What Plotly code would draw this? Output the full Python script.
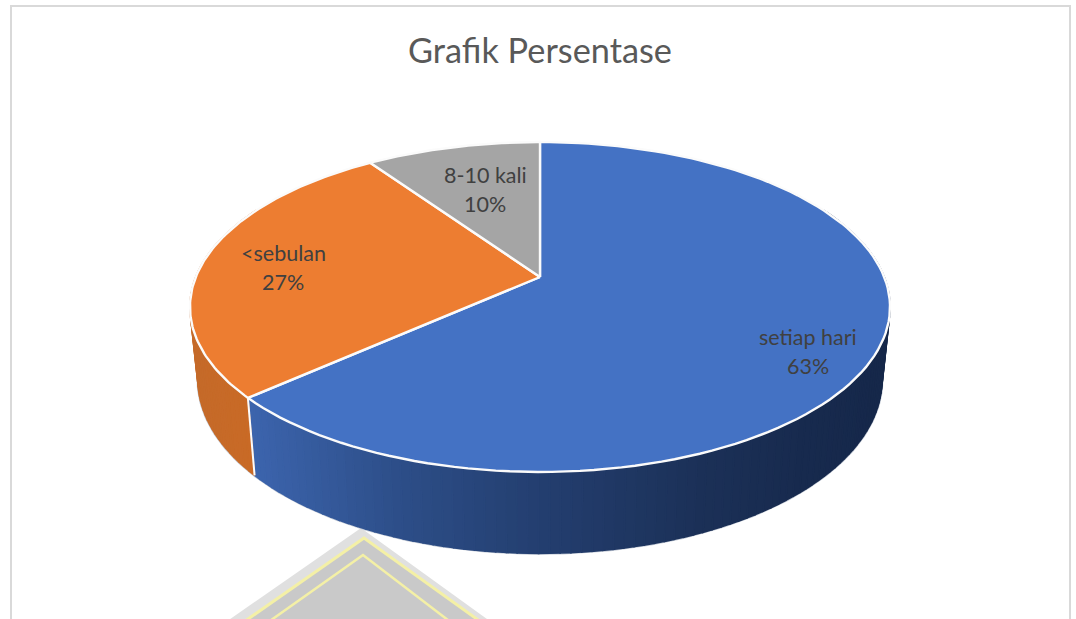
import numpy as np
import plotly.graph_objects as go

# ---- data ----
categories = ["setiap hari", "<sebulan", "8-10 kali"]
values = [63.4, 27.0, 9.6]
top_colors = ["#4472C4", "#ED7D31", "#A5A5A5"]
title_text = "Grafik Persentase"

# ---- perspective model of the tilted disc (pixel axes) ----
CX, CY_TOP, CY_BOT = 540.0, 277.0, 348.0
K = 0.1818
A_TOP, B_TOP = 344.2, 159.5
A_BOT, B_BOT = 336.3, 168.0
WHITE = "#FBFBFB"


def rim(theta, level):
    u, v = np.sin(theta), np.cos(theta)
    d = 1 + K * v
    if level == "top":
        return CX + A_TOP * u / d, CY_TOP - B_TOP * v / d
    return CX + A_BOT * u / d, CY_BOT - B_BOT * v / d


def lerp_color(x, stops):
    xs = [s[0] for s in stops]
    return "rgb(%d,%d,%d)" % tuple(
        np.interp(x, xs, [s[1][i] for s in stops]) for i in range(3)
    )


side_stops = [
    [(200, (62, 104, 180)), (255, (60, 100, 172)), (400, (45, 78, 136)),
     (540, (36, 63, 112)), (700, (28, 49, 88)), (800, (24, 43, 79)), (890, (22, 40, 74))],
    [(190, (197, 106, 42)), (255, (202, 106, 38))],
    [(190, (130, 130, 130)), (540, (130, 130, 130))],
]

fig = go.Figure()

# slice boundaries, clockwise from 12 o'clock
fractions = np.cumsum([0] + values) / sum(values)
angles = 2 * np.pi * fractions

# bottom rim highlight (under the wall so only its outer half shows)
th = np.linspace(np.radians(100), np.radians(285), 160)
bx, by = rim(th, "bot")
fig.add_trace(go.Scatter(x=bx, y=by, mode="lines", line=dict(color="#C4CBD6", width=3),
                         hoverinfo="skip", showlegend=False))

# side wall
for i in range(len(values)):
    a0, a1 = angles[i], angles[i + 1]
    n = max(2, int((a1 - a0) / np.radians(1.5)))
    edges = np.linspace(a0, a1, n + 1)
    for t0, t1 in zip(edges[:-1], edges[1:]):
        if np.cos((t0 + t1) / 2) > 0.45:
            continue  # back of the wall, hidden by the top
        x0, y0 = rim(t0, "top")
        x1, y1 = rim(t1, "top")
        x2, y2 = rim(t1, "bot")
        x3, y3 = rim(t0, "bot")
        col = lerp_color((x0 + x1) / 2, side_stops[i])
        fig.add_trace(go.Scatter(
            x=[x0, x1, x2, x3, x0], y=[y0, y1, y2, y3, y0],
            mode="lines", fill="toself", fillcolor=col,
            line=dict(color=col, width=1.6), hoverinfo="skip", showlegend=False))

# vertical white seam between blue and orange walls
sx0, sy0 = rim(angles[1], "top")
sx1, sy1 = rim(angles[1], "bot")
fig.add_trace(go.Scatter(x=[sx0, sx1], y=[sy0, sy1], mode="lines",
                         line=dict(color=WHITE, width=2), hoverinfo="skip", showlegend=False))

# top faces
for i, name in enumerate(categories):
    th = np.linspace(angles[i], angles[i + 1], 120)
    ax, ay = rim(th, "top")
    fig.add_trace(go.Scatter(
        x=np.r_[CX, ax, CX], y=np.r_[CY_TOP, ay, CY_TOP],
        mode="lines", fill="toself", fillcolor=top_colors[i],
        line=dict(color=WHITE, width=2.4), name=name, showlegend=False))

# ---- labels ----
label_pos = [(808, 337, 366), (283, 253, 282), (485, 175, 204)]
annotations = []
for name, val, (lx, y1, y2) in zip(categories, values, label_pos):
    for txt, ly in ((name, y1), (f"{val / sum(values):.0%}", y2)):
        annotations.append(dict(x=lx, y=ly, xref="x", yref="y", text=txt, showarrow=False,
                                font=dict(family="Lato", size=21.5, color="#404040"),
                                xanchor="center", yanchor="middle"))
annotations.append(dict(x=540, y=49, xref="x", yref="y", text=title_text, showarrow=False,
                        font=dict(family="Lato", size=34.3, color="#595959"),
                        xanchor="center", yanchor="middle"))

# ---- frame and the watermark behind the chart (runs off the bottom of the page) ----
shapes = [
    dict(type="path", path="M361,528 L200,640 L516,640 Z", fillcolor="#E0E0E0",
         line=dict(width=0), layer="below"),
    dict(type="path", path="M364,538 L218,640 L506,640 Z", fillcolor="#C9C9C9",
         line=dict(color="#F4F0A6", width=3), layer="below"),
    dict(type="path", path="M363,555 L243,640 L474,640 Z", fillcolor="#C9C9C9",
         line=dict(color="#F4F0A6", width=2.5), layer="below"),
    dict(type="path", path="M11,660 L11,6 L1070,6 L1070,660", fillcolor="rgba(0,0,0,0)",
         line=dict(color="#D9D9D9", width=2), layer="below"),
]

fig.update_layout(
    width=1076, height=619, margin=dict(l=0, r=0, t=0, b=0),
    paper_bgcolor="white", plot_bgcolor="white", showlegend=False,
    xaxis=dict(range=[0, 1076], visible=False, fixedrange=True),
    yaxis=dict(range=[619, 0], visible=False, fixedrange=True),
    shapes=shapes, annotations=annotations,
)

fig.write_html("out.html", config={"displayModeBar": False},
               post_script="document.body.style.margin='0';document.body.style.overflow='hidden';")
